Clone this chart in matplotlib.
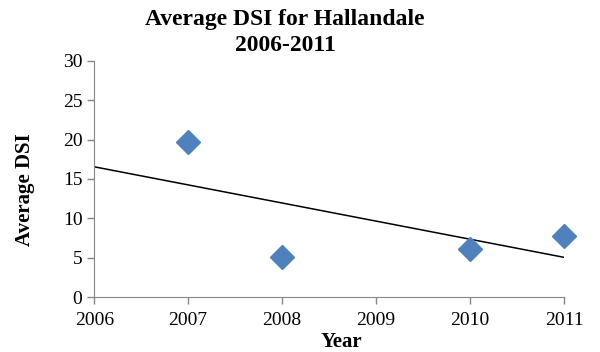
import numpy as np
import matplotlib.pyplot as plt

years = [2007, 2008, 2010, 2011]
dsi = [19.7, 5.1, 6.1, 7.7]
xticks = [2006, 2007, 2008, 2009, 2010, 2011]
yticks = [0, 5, 10, 15, 20, 25, 30]

plt.rcParams['font.family'] = ['Liberation Serif', 'DejaVu Serif']

fig = plt.figure(figsize=(6, 3.52), dpi=100)
ax = fig.add_axes([0.157, 0.156, 0.783, 0.671])

# linear trendline over the full axis range
slope, icpt = np.polyfit(years, dsi, 1)
tx = np.array([xticks[0], xticks[-1]])
ax.plot(tx, slope * tx + icpt, color='black', lw=1.1, zorder=2)

ax.plot(years, dsi, linestyle='none', marker='D', markersize=12,
        color='#4F81BD', markeredgecolor='#4F81BD', zorder=3, clip_on=False)

ax.set_xlim(2006, 2011)
ax.set_ylim(0, 30)
ax.set_xticks(xticks)
ax.set_yticks(yticks)
ax.tick_params(labelsize=14, color='#868686', length=5, width=1)
ax.tick_params(axis='x', pad=6)

for s in ['top', 'right']:
    ax.spines[s].set_visible(False)
for s in ['left', 'bottom']:
    ax.spines[s].set_color('#868686')

ax.set_xlabel('Year', fontsize=15, fontweight='bold')
ax.xaxis.set_label_coords(0.527, -0.148)
ax.set_ylabel('Average DSI', fontsize=15, fontweight='bold')
ax.yaxis.set_label_coords(-0.125, 0.453)
fig.text(0.475, 0.975, 'Average DSI for Hallandale\n2006-2011', fontsize=17,
         fontweight='bold', ha='center', va='top', linespacing=1.35)

fig.savefig('out.png')
